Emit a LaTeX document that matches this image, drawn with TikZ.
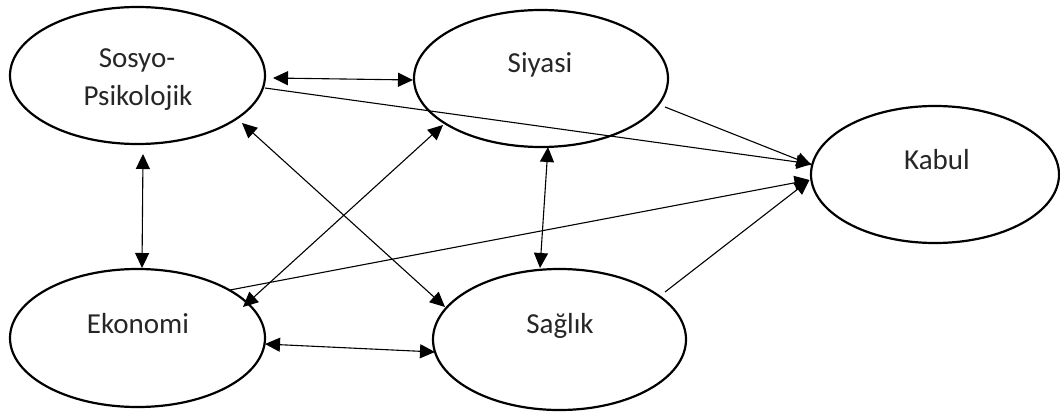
\documentclass[tikz,border=0pt]{standalone}
\usepackage{fontspec}
\setmainfont{Carlito}
\usetikzlibrary{arrows.meta,shapes.geometric,calc}
\begin{document}
\begin{tikzpicture}[x=1pt,y=-1pt,
  factor/.style={draw=black,line width=2.2pt,ellipse,inner sep=0pt,fill=white},
  lbl/.style={anchor=base,inner sep=0pt,text=black!85,font=\fontsize{29}{38}\selectfont,align=center},
  link/.style={line width=1.1pt,draw=black,-{Triangle[length=15pt,width=14pt]}},
  both/.style={link,{Triangle[length=15pt,width=14pt]}-{Triangle[length=15pt,width=14pt]}}]
\useasboundingbox (0,0) rectangle (1060,412);
\fill[white] (0,0) rectangle (1060,412);

% factors
\node[factor,minimum width=255pt,minimum height=137pt] (sp) at (137.5,75.5) {};
\node[factor,minimum width=254pt,minimum height=137pt] (sy) at (541,78.5) {};
\node[factor,minimum width=248pt,minimum height=137pt] (kb) at (935,174.5) {};
\node[factor,minimum width=255pt,minimum height=138pt] (ek) at (137.5,338) {};
\node[factor,minimum width=253pt,minimum height=141pt] (sg) at (559.5,339.5) {};

% names
\node[lbl] (sptop) at (137,67) {Sosyo-};
\node[lbl] (spbot) at (138,105) {Psikolojik};
\node[lbl] (sytxt) at (540,73) {Siyasi};
\node[lbl] (kbtxt) at (937,169) {Kabul};
\node[lbl] (ektxt) at (138,333) {Ekonomi};
\node[lbl] (sgtxt) at (560,333) {Sağlık};

% correlations
\draw[both] ($(sp)+(135.5,2.5)$) -- ($(sy)+(-128,1.5)$);
\draw[both] ($(sp)+(5.5,78.5)$) -- ($(ek)+(4.5,-70)$);
\draw[both] ($(sy)+(7,68.5)$) -- ($(sg)+(-19.5,-71.5)$);
\draw[both] ($(sp)+(104.5,47.5)$) -- ($(sg)+(-114.5,-32.5)$);
\draw[both] ($(ek)+(105.5,-31)$) -- ($(sy)+(-98,46.5)$);
\draw[both] ($(ek)+(127.5,6)$) -- ($(sg)+(-124.5,12.5)$);

% effects on acceptance
\draw[link] ($(sp)+(127.5,12.5)$) -- ($(kb)+(-123.5,-10.5)$);
\draw[link] ($(sy)+(124,28.5)$) -- ($(kb)+(-123.5,-9.5)$);
\draw[link] ($(ek)+(92.5,-48)$) -- ($(kb)+(-125.5,5.5)$);
\draw[link] ($(sg)+(105.5,-47.5)$) -- ($(kb)+(-125.5,5.5)$);
\end{tikzpicture}
\end{document}
